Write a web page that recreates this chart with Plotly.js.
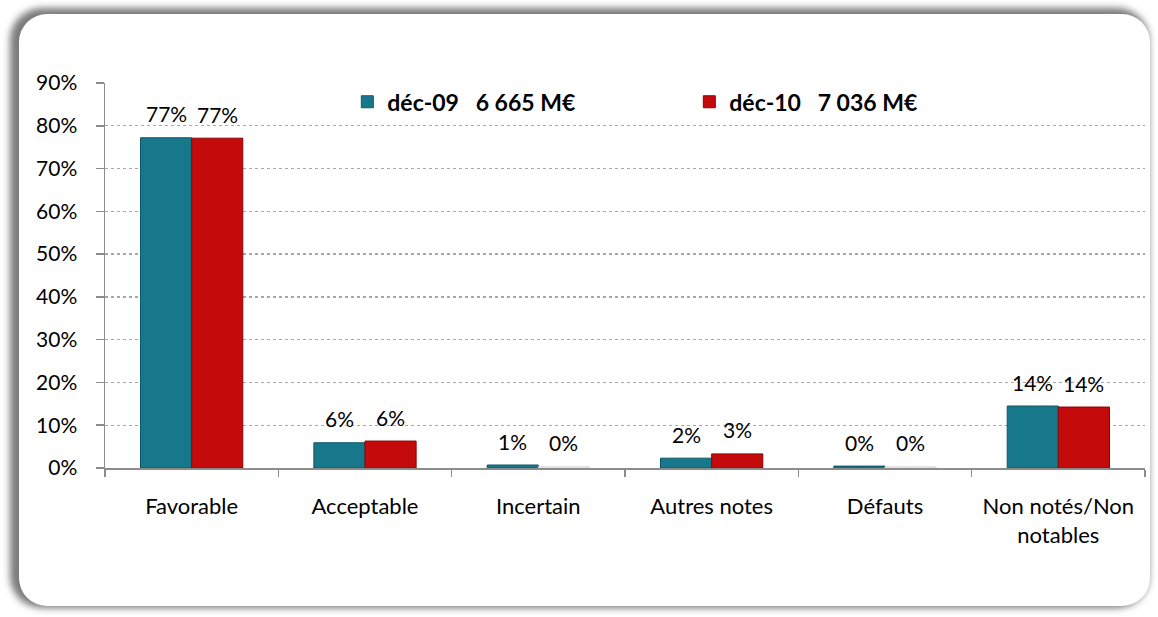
<!DOCTYPE html>
<html>
<head>
<meta charset="utf-8">
<script src="https://cdn.plot.ly/plotly-3.0.1.min.js"></script>
<style>
  html, body { margin: 0; padding: 0; background: #ffffff; width: 1158px; height: 617px; overflow: hidden; }
  #frame {
    position: absolute; left: 19px; top: 14px; width: 1131px; height: 592px;
    background: #ffffff; border-radius: 28px;
    box-shadow: -5px -2px 7px 4px rgba(90,90,90,0.8);
  }
  #chart { position: absolute; left: 0; top: 0; width: 1158px; height: 617px; }
</style>
</head>
<body>
<div id="frame"></div>
<div id="chart"></div>
<script>
// ---- data ----
const categories = ['Favorable', 'Acceptable', 'Incertain', 'Autres notes', 'Défauts', 'Non notés/Non<br>notables'];
const seriesNames = ['déc-09\u00a0\u00a0\u00a06 665 M€', 'déc-10\u00a0\u00a0\u00a07 036 M€'];
const dec09 = [0.772, 0.059, 0.007, 0.023, 0.0045, 0.1449];
const dec10 = [0.771, 0.063, 0.003, 0.033, 0.003, 0.1425];
const yTickVals = [0, 0.1, 0.2, 0.3, 0.4, 0.5, 0.6, 0.7, 0.8, 0.9];

// ---- style ----
const colors = ['#17788c', '#c40a0a'];
const lineColors = ['#0e5766', '#8a0606'];
const faintRed = '#eee6e6';
const bargap = 0.41;
const fontFam = 'Lato, "Open Sans", sans-serif';

const redColors = dec10.map(v => v < 0.004 ? faintRed : colors[1]);
const redLines = dec10.map(v => v < 0.004 ? '#dddddd' : lineColors[1]);

const traces = [
  { type: 'bar', name: seriesNames[0], x: categories, y: dec09,
    marker: { color: colors[0], line: { color: lineColors[0], width: 1 } }, hoverinfo: 'skip' },
  { type: 'bar', name: seriesNames[1], x: categories, y: dec10,
    marker: { color: redColors, line: { color: redLines, width: 1 } }, hoverinfo: 'skip' }
];

const half = (1 - bargap) / 4;
const annotations = [];
[dec09, dec10].forEach((vals, s) => {
  vals.forEach((v, j) => {
    annotations.push({
      x: j + (s === 0 ? -half : half), y: v, xref: 'x', yref: 'y',
      text: Math.round(v * 100) + '%', showarrow: false,
      yanchor: 'middle', yshift: 24,
      font: { family: fontFam, size: 21, color: '#000' }
    });
  });
});

const layout = {
  width: 1158, height: 617,
  margin: { l: 105, r: 13, t: 83, b: 149 },
  paper_bgcolor: 'rgba(0,0,0,0)', plot_bgcolor: 'rgba(0,0,0,0)',
  barmode: 'group', bargap: bargap, bargroupgap: 0,
  showlegend: true,
  legend: {
    orientation: 'h', x: 0.233, y: 1.007, xanchor: 'left', yanchor: 'top',
    entrywidth: 297, bgcolor: 'rgba(0,0,0,0)',
    font: { family: fontFam, size: 23, color: '#000', weight: 'bold' }
  },
  xaxis: {
    type: 'category', tickson: 'boundaries', ticks: 'outside', ticklen: 7, tickwidth: 1.5,
    tickcolor: '#8c8c8c', showline: true, linecolor: '#8c8c8c', linewidth: 1.5,
    showgrid: false, zeroline: false, ticklabelstandoff: 18,
    tickfont: { family: fontFam, size: 22, color: '#000' }
  },
  yaxis: {
    range: [0, 0.9], tickvals: yTickVals, tickformat: '.0%',
    ticks: 'outside', ticklen: 8, tickwidth: 1.5, tickcolor: '#8c8c8c',
    showline: true, linecolor: '#8c8c8c', linewidth: 1.5,
    showgrid: true, gridcolor: '#a8a8a8', griddash: 'dot', gridwidth: 1.3,
    zeroline: false, ticklabelstandoff: 14,
    tickfont: { family: fontFam, size: 21, color: '#000' }
  },
  annotations: annotations
};

Plotly.newPlot('chart', traces, layout, { displayModeBar: false, staticPlot: true });
</script>
</body>
</html>
